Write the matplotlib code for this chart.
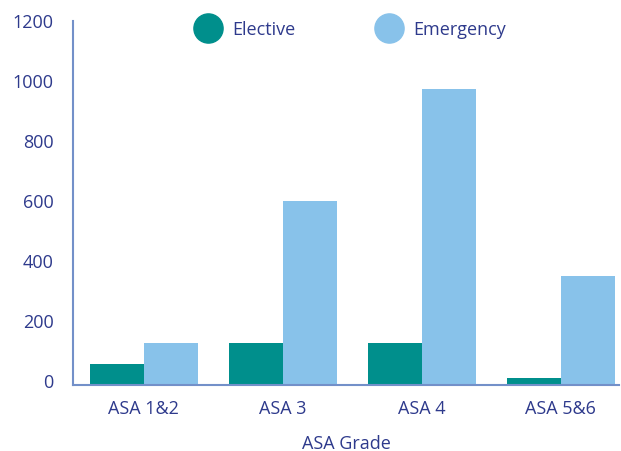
import matplotlib.pyplot as plt
from matplotlib.lines import Line2D
from matplotlib.transforms import ScaledTranslation
import numpy as np

# datos
grades = ['ASA 1&2', 'ASA 3', 'ASA 4', 'ASA 5&6']
elective = [70, 140, 140, 23]
emergency = [140, 613, 987, 363]

teal = '#008f8c'
light_blue = '#88c2ea'
navy = '#2e3a8c'
spine_col = '#7390c9'

plt.rcParams['font.family'] = ['Open Sans', 'DejaVu Sans']

fig = plt.figure(figsize=(6.21, 4.52), dpi=100)
ax = fig.add_axes([73 / 621, 1 - 386 / 452, (619 - 73) / 621, (386 - 22) / 452])

x = np.arange(len(grades))
w = 0.388
ax.bar(x - w / 2, elective, w, color=teal)
ax.bar(x + w / 2, emergency, w, color=light_blue)

ax.set_xlim(-0.51, 3.42)
ax.set_ylim(0, 1213)
ax.set_yticks(range(0, 1201, 200))
ax.set_xticks(x)
ax.set_xticklabels(grades)

for s in ['top', 'right']:
    ax.spines[s].set_visible(False)
for s in ['left', 'bottom']:
    ax.spines[s].set_color(spine_col)
    ax.spines[s].set_linewidth(1.5)

ax.tick_params(axis='both', length=0, labelsize=13, colors=navy)
ax.tick_params(axis='y', pad=14)
ax.tick_params(axis='x', pad=10)
# las etiquetas del eje y van un poco por encima de la marca
shift = ScaledTranslation(0, 5 / 100, fig.dpi_scale_trans)
for lbl in ax.get_yticklabels():
    lbl.set_transform(lbl.get_transform() + shift)

ax.set_xlabel('ASA Grade', fontsize=13, color=navy, labelpad=12.5)

handles = [Line2D([], [], marker='o', linestyle='', markersize=21, color=teal),
           Line2D([], [], marker='o', linestyle='', markersize=21, color=light_blue)]
leg = fig.legend(handles, ['Elective', 'Emergency'], loc='center',
                 bbox_to_anchor=(348 / 621, 1 - 30 / 452), ncol=2, frameon=False,
                 fontsize=13, handletextpad=0.35, columnspacing=4.2)
for t in leg.get_texts():
    t.set_color(navy)

fig.savefig('out.png', dpi=100)
